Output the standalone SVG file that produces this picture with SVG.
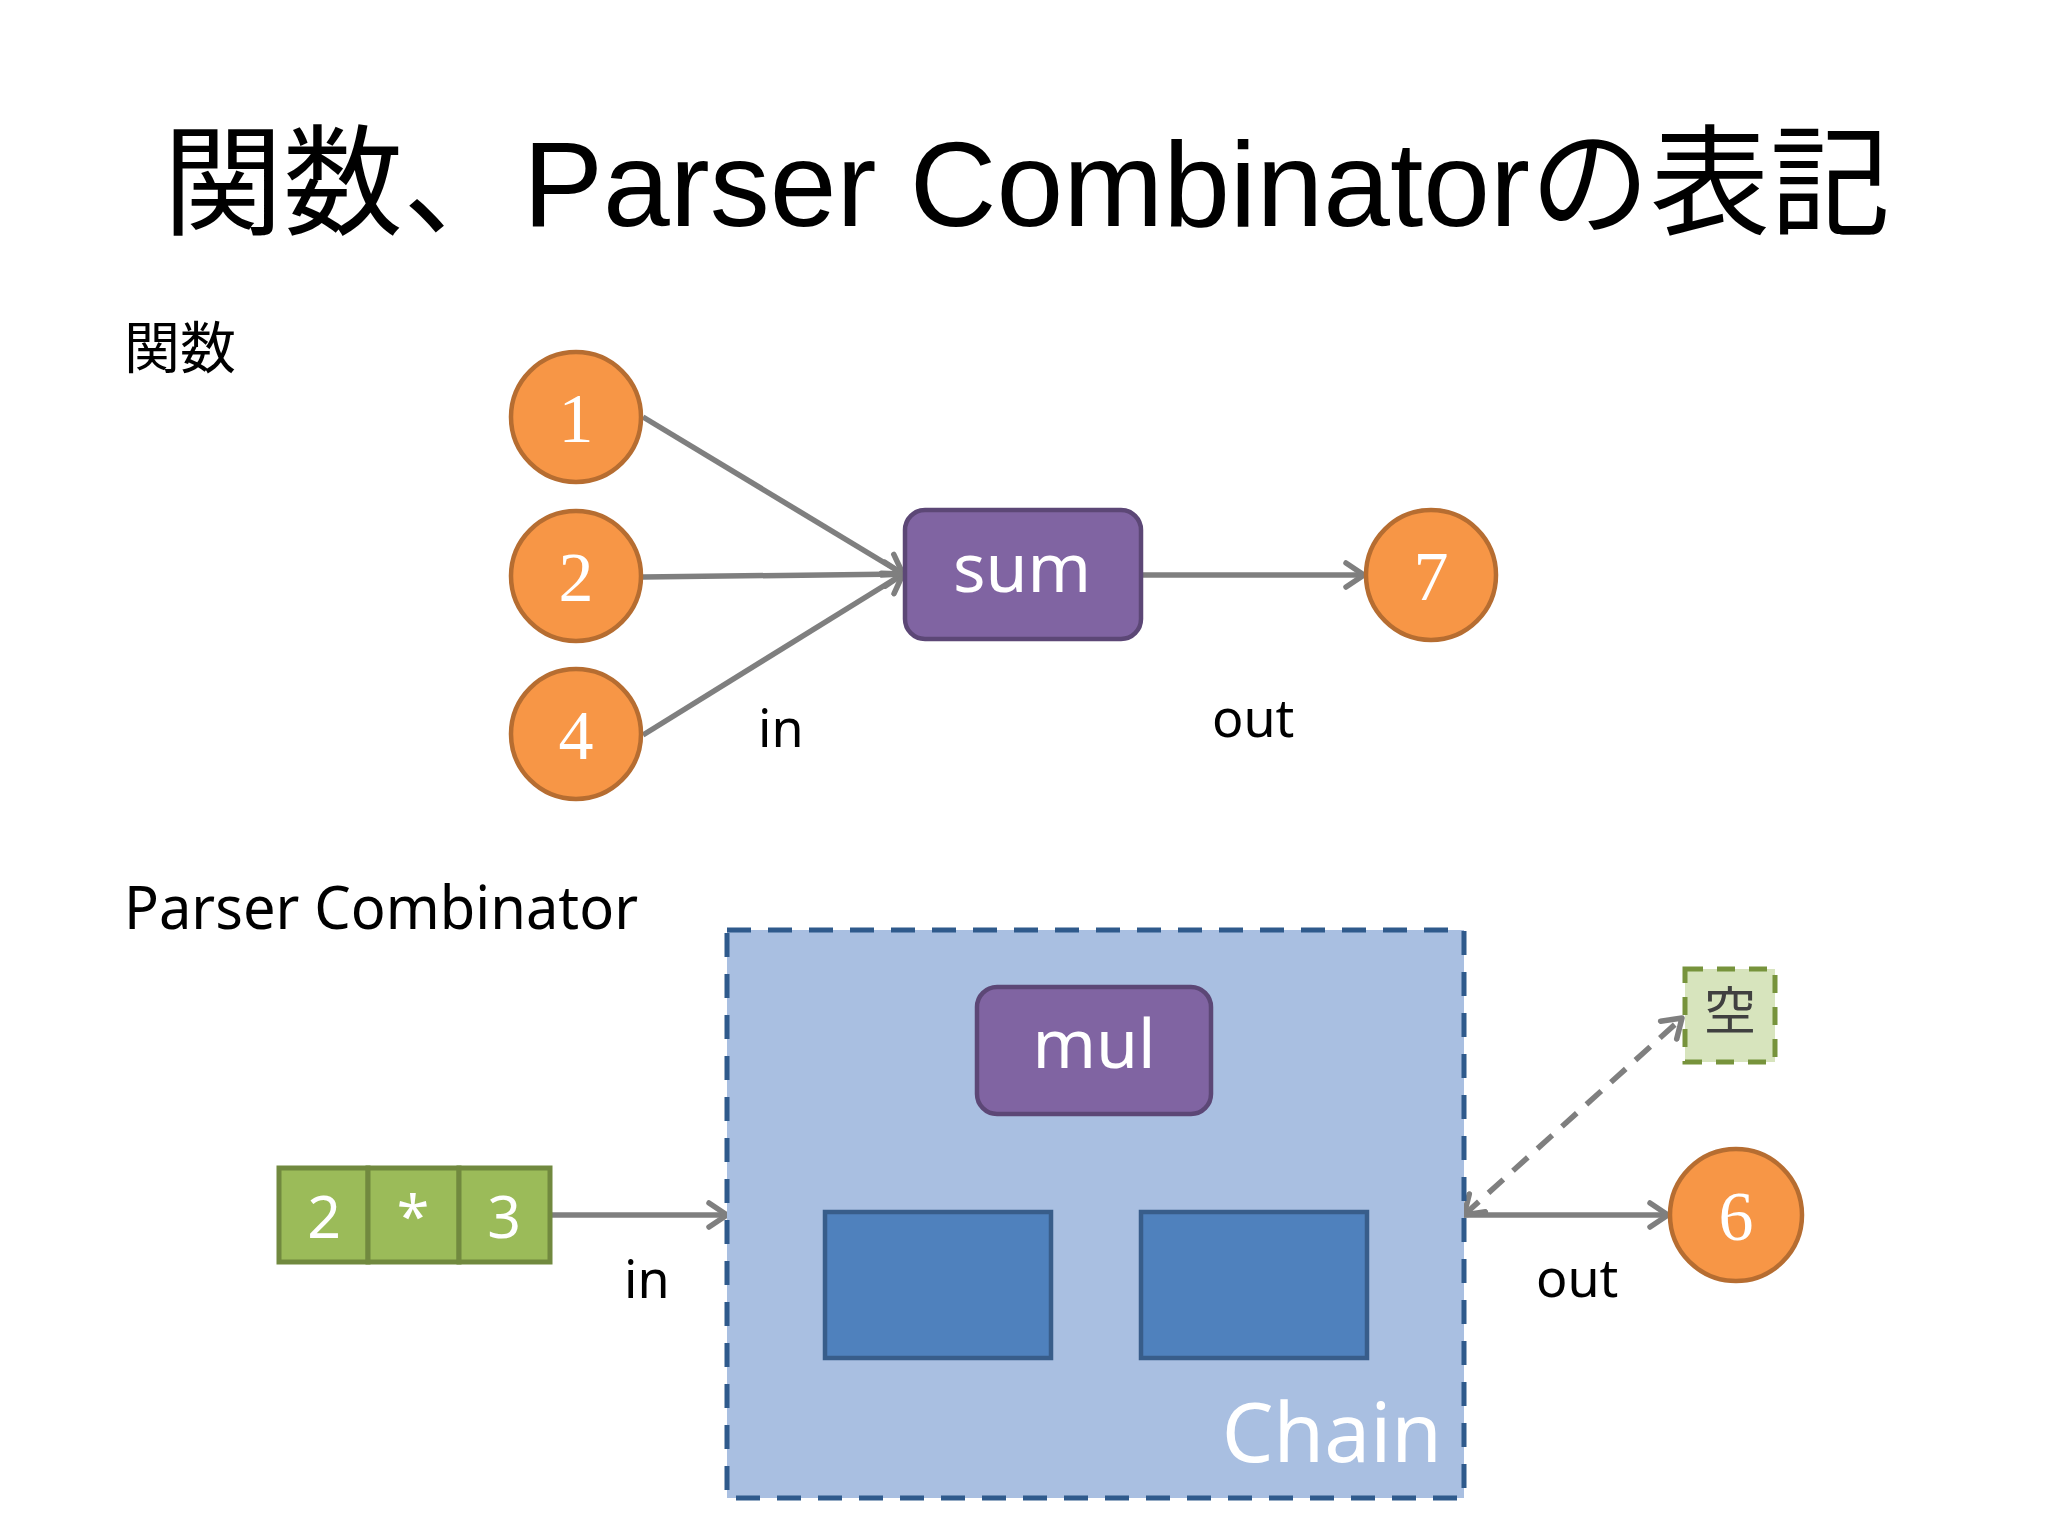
<svg xmlns="http://www.w3.org/2000/svg" width="2048" height="1536" viewBox="0 0 2048 1536">
<defs>
<style>
.title{font-family:"Liberation Sans","Noto Sans CJK JP",sans-serif;font-size:120px;fill:#000}
.label{font-family:"Noto Sans","Noto Sans CJK JP",sans-serif;fill:#000}
.circ{fill:#F79646;stroke:#B66D31;stroke-width:4.5}
.num{font-family:"Liberation Serif",serif;font-size:70px;fill:#fff;text-anchor:middle}
.func{fill:#8064A2;stroke:#5C4776;stroke-width:4.5}
.ftxt{font-family:"Noto Sans",sans-serif;font-size:68px;fill:#fff;text-anchor:middle}
.tok{fill:#9BBB59;stroke:#71893F;stroke-width:5}
.ttxt{font-family:"Noto Sans",sans-serif;font-size:59px;fill:#fff;text-anchor:middle}
.blk{fill:#4F81BD;stroke:#385D8A;stroke-width:4.5}
.conn{stroke:#7F7F7F;stroke-width:5.5;fill:none}
</style>
<marker id="ah" viewBox="0 0 24 30" refX="21" refY="15" markerWidth="24" markerHeight="30" markerUnits="userSpaceOnUse" orient="auto-start-reverse">
<path d="M3,3 L21,15 L3,27" fill="none" stroke="#7F7F7F" stroke-width="5.5" stroke-linecap="round" stroke-linejoin="round"/>
</marker>
</defs>
<rect width="2048" height="1536" fill="#fff"/>

<text class="title" x="163" y="226">関数、Parser Combinatorの表記</text>
<text class="label" x="124" y="368" style="font-family:'Noto Sans CJK JP',sans-serif" font-size="56">関数</text>
<text class="label" x="124" y="929" font-size="60" textLength="514" lengthAdjust="spacingAndGlyphs">Parser Combinator</text>

<g id="connectors">
<line class="conn" x1="643" y1="417" x2="903" y2="574" marker-end="url(#ah)"/>
<line class="conn" x1="643" y1="577" x2="903" y2="574" marker-end="url(#ah)"/>
<line class="conn" x1="643" y1="735" x2="903" y2="574" marker-end="url(#ah)"/>
<line class="conn" x1="1141" y1="575" x2="1364" y2="575" marker-end="url(#ah)"/>
<line class="conn" x1="551" y1="1215" x2="727" y2="1215" marker-end="url(#ah)"/>
<line class="conn" x1="1464" y1="1215" x2="1668" y2="1215" marker-end="url(#ah)"/>
<line class="conn" x1="1464" y1="1215" x2="1682" y2="1018" stroke-dasharray="20 13" marker-start="url(#ah)" marker-end="url(#ah)"/>
</g>

<g id="n1"><circle class="circ" cx="576" cy="417" r="65"/><text class="num" x="576" y="442">1</text></g>
<g id="n2"><circle class="circ" cx="576" cy="576" r="65"/><text class="num" x="576" y="601">2</text></g>
<g id="n4"><circle class="circ" cx="576" cy="734" r="65"/><text class="num" x="576" y="759">4</text></g>
<g id="sum"><rect class="func" x="905" y="510" width="236" height="129" rx="20"/><text class="ftxt" x="1022" y="592">sum</text></g>
<g id="n7"><circle class="circ" cx="1431" cy="575" r="65"/><text class="num" x="1431" y="600">7</text></g>
<text class="label" x="758" y="747" font-size="52">in</text>
<text class="label" x="1212" y="737" font-size="52">out</text>

<g id="tokens">
<rect class="tok" x="279" y="1168" width="89" height="94"/>
<rect class="tok" x="368" y="1168" width="91" height="94"/>
<rect class="tok" x="459" y="1168" width="91" height="94"/>
<text class="ttxt" x="324" y="1238">2</text>
<text class="ttxt" x="413" y="1238">*</text>
<text class="ttxt" x="504" y="1238">3</text>
</g>

<g id="chain">
<rect x="727" y="930" width="737" height="568" fill="#A9BFE1" stroke="#2F5A8C" stroke-width="5" stroke-dasharray="24 17"/>
<g id="mul"><rect class="func" x="977" y="987" width="234" height="127" rx="20"/><text class="ftxt" x="1094" y="1068">mul</text></g>
<rect class="blk" x="825" y="1212" width="226" height="146"/>
<rect class="blk" x="1141" y="1212" width="226" height="146"/>
<text x="1442" y="1462" font-family="Noto Sans,sans-serif" font-size="82" fill="#fff" text-anchor="end">Chain</text>
</g>

<text class="label" x="624" y="1298" font-size="52">in</text>
<text class="label" x="1536" y="1297" font-size="52">out</text>

<g id="n6"><circle class="circ" cx="1736" cy="1215" r="66"/><text class="num" x="1736" y="1240">6</text></g>
<g id="empty"><rect x="1685" y="969" width="90" height="93" fill="#D7E4BD" stroke="#77933C" stroke-width="5" stroke-dasharray="18 14"/><text x="1730" y="1030" font-family="Noto Sans CJK JP,sans-serif" font-size="52" fill="#404040" text-anchor="middle">空</text></g>
</svg>
